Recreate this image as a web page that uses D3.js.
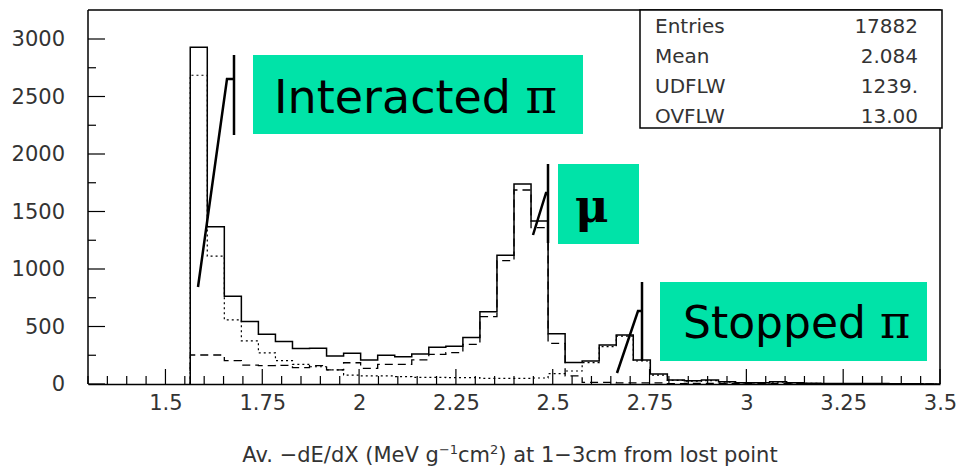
<!DOCTYPE html>
<html>
<head>
<meta charset="utf-8">
<script src="https://cdn.jsdelivr.net/npm/d3@7"></script>
<style>
  body { margin: 0; background: #fff; }
  text { font-family: "DejaVu Sans", sans-serif; }
</style>
</head>
<body>
<script>
// histogram: 50 bins from 1.3 to 3.5
var binLo = 1.3, binHi = 3.5, nBins = 50;
var firstBin = 6;
// counts from bin 6 onwards
var totalCounts = [2928, 1368, 762, 543, 433, 370, 308, 310, 243, 267, 209, 249, 238, 261, 319, 328,
  404, 629, 1119, 1739, 1417, 438, 186, 200, 339, 426, 209, 87, 35, 28, 35, 20, 11, 11, 20, 11,
  6, 5, 5, 4, 4, 3, 3, 0];
var pionCounts = [2685, 1112, 557, 375, 270, 203, 171, 150, 122, 78, 70, 70, 64, 58, 58, 55,
  55, 49, 49, 49, 52, 90, 113, 186, 325, 417, 200, 78, 31, 24, 30, 17, 9, 9, 17, 9,
  5, 4, 4, 3, 3, 2, 2, 0];
var muonCounts = [252, 252, 203, 165, 160, 162, 142, 160, 122, 185, 136, 171, 171, 209, 258, 272,
  345, 586, 1072, 1687, 1359, 354, 70, 14, 14, 9, 9, 9, 4, 5, 5, 3, 2, 2, 2, 2,
  1, 1, 1, 1, 1, 1, 1, 0];

var xTicks = [1.5, 1.75, 2, 2.25, 2.5, 2.75, 3, 3.25, 3.5];
var yTicks = [0, 500, 1000, 1500, 2000, 2500, 3000];

var statNames = ["Entries", "Mean", "UDFLW", "OVFLW"];
var statValues = ["17882", "2.084", "1239.", "13.00"];

var w = 956, h = 469;
var mLeft = 88, mRight = 940, mTop = 10, mBottom = 384;

var svg = d3.select("body").append("svg")
  .attr("width", w).attr("height", h);

var xScale = d3.scaleLinear().domain([1.3, 3.5]).range([mLeft, mRight]);
var yScale = d3.scaleLinear().domain([0, 3000]).range([mBottom, 39]);

var binW = (binHi - binLo) / nBins;

function stepPoints(counts) {
  var pts = [[binLo + firstBin * binW, 0]];
  counts.forEach(function(c, i) {
    pts.push([binLo + (firstBin + i) * binW, c]);
  });
  pts.push([binLo + (firstBin + counts.length) * binW, counts[counts.length - 1]]);
  return pts;
}

var line = d3.line()
  .x(function(d) { return xScale(d[0]); })
  .y(function(d) { return yScale(d[1]); })
  .curve(d3.curveStepAfter);

svg.append("path").attr("d", line(stepPoints(pionCounts)))
  .attr("fill", "none").attr("stroke", "#000").attr("stroke-width", 1.2)
  .attr("stroke-dasharray", "2,3");
svg.append("path").attr("d", line(stepPoints(muonCounts)))
  .attr("fill", "none").attr("stroke", "#000").attr("stroke-width", 1.3)
  .attr("stroke-dasharray", "8,5");
svg.append("path").attr("d", line(stepPoints(totalCounts)))
  .attr("fill", "none").attr("stroke", "#000").attr("stroke-width", 1.5);

// frame
svg.append("path")
  .attr("d", "M" + mLeft + "," + mTop + "H" + mRight + "V" + mBottom)
  .attr("fill", "none").attr("stroke", "#000").attr("stroke-width", 1.5);

// x axis
var xAxis = d3.axisBottom(xScale).tickValues(xTicks).tickSize(0).tickPadding(11)
  .tickFormat(function(d) { return String(d); });
var gx = svg.append("g").attr("transform", "translate(0," + mBottom + ")").call(xAxis);
gx.select(".domain").attr("stroke-width", 1.5);
gx.selectAll(".tick text").attr("font-size", 21).attr("fill", "#333");

var xMinor = d3.range(0, 45).map(function(i) { return +(1.3 + i * 0.05).toFixed(2); });
svg.append("g").selectAll("line").data(xMinor).enter().append("line")
  .attr("x1", function(d) { return xScale(d); })
  .attr("x2", function(d) { return xScale(d); })
  .attr("y1", mBottom)
  .attr("y2", function(d) { return Math.abs(d * 4 - Math.round(d * 4)) < 1e-6 && d >= 1.5 ? mBottom - 15 : mBottom - 8; })
  .attr("stroke", "#000").attr("stroke-width", 1.2);

// y axis
var yAxis = d3.axisLeft(yScale).tickValues(yTicks).tickSize(0).tickPadding(23)
  .tickFormat(d3.format("d"));
var gy = svg.append("g").attr("transform", "translate(" + mLeft + ",0)").call(yAxis);
gy.select(".domain").remove();
gy.selectAll(".tick text").attr("font-size", 21).attr("fill", "#333");
svg.append("line").attr("x1", mLeft).attr("x2", mLeft).attr("y1", mTop).attr("y2", mBottom)
  .attr("stroke", "#000").attr("stroke-width", 1.5);

var yMinor = d3.range(0, 3250, 250);
svg.append("g").selectAll("line").data(yMinor).enter().append("line")
  .attr("x1", mLeft)
  .attr("x2", function(d) { return d % 500 === 0 ? mLeft + 17 : mLeft + 8; })
  .attr("y1", function(d) { return yScale(d); })
  .attr("y2", function(d) { return yScale(d); })
  .attr("stroke", "#000").attr("stroke-width", 1.2);

// axis title
var title = svg.append("text").attr("x", 510).attr("y", 462)
  .attr("text-anchor", "middle").attr("font-size", 21).attr("fill", "#333");
title.append("tspan").text("Av. \u2212dE/dX (MeV g");
title.append("tspan").attr("dy", -8).attr("font-size", 13).text("\u22121");
title.append("tspan").attr("dy", 8).text("cm");
title.append("tspan").attr("dy", -8).attr("font-size", 13).text("2");
title.append("tspan").attr("dy", 8).text(") at 1\u22123cm from lost point");

// stats box
svg.append("rect").attr("x", 640).attr("y", mTop).attr("width", 302).attr("height", 118)
  .attr("fill", "#fff").attr("stroke", "#000").attr("stroke-width", 1.5);
statNames.forEach(function(n, i) {
  svg.append("text").attr("x", 655).attr("y", 33 + i * 30)
    .attr("font-size", 20).attr("fill", "#333").text(n);
  svg.append("text").attr("x", 918).attr("y", 33 + i * 30)
    .attr("text-anchor", "end").attr("font-size", 20).attr("fill", "#333").text(statValues[i]);
});

// annotation boxes
var teal = "#00e3a8";
function label(x, y, bw, bh, word, tx, ty, fs) {
  svg.append("rect").attr("x", x).attr("y", y).attr("width", bw).attr("height", bh).attr("fill", teal);
  var t = svg.append("text").attr("x", tx).attr("y", ty).attr("font-size", fs).attr("fill", "#000");
  if (word) t.append("tspan").text(word + " ");
  return t;
}
label(253, 55, 330, 79, "Interacted", 274, 113, 46)
  .append("tspan").attr("font-family", "DejaVu Serif").attr("font-size", 48).text("\u03c0");
label(558, 164, 81, 80, "", 575, 222, 46)
  .append("tspan").attr("font-family", "DejaVu Serif").attr("font-weight", "bold").text("\u03bc");
label(660, 282, 267, 79, "Stopped", 683, 338, 44)
  .append("tspan").attr("font-family", "DejaVu Serif").attr("font-size", 46).text("\u03c0");

// pointer marks
var marks = [
  [[198, 287], [227, 79], [234, 79], [234, 55], [234, 135]],
  [[533, 235], [546, 193], [548, 193], [548, 164], [548, 243]],
  [[617, 373], [638, 311], [642, 311], [642, 282], [642, 361]]
];
marks.forEach(function(m) {
  svg.append("path")
    .attr("d", "M" + m[0] + "L" + m[1] + "L" + m[2] + "M" + m[3] + "L" + m[4])
    .attr("fill", "none").attr("stroke", "#000").attr("stroke-width", 2.5);
});
</script>
</body>
</html>
